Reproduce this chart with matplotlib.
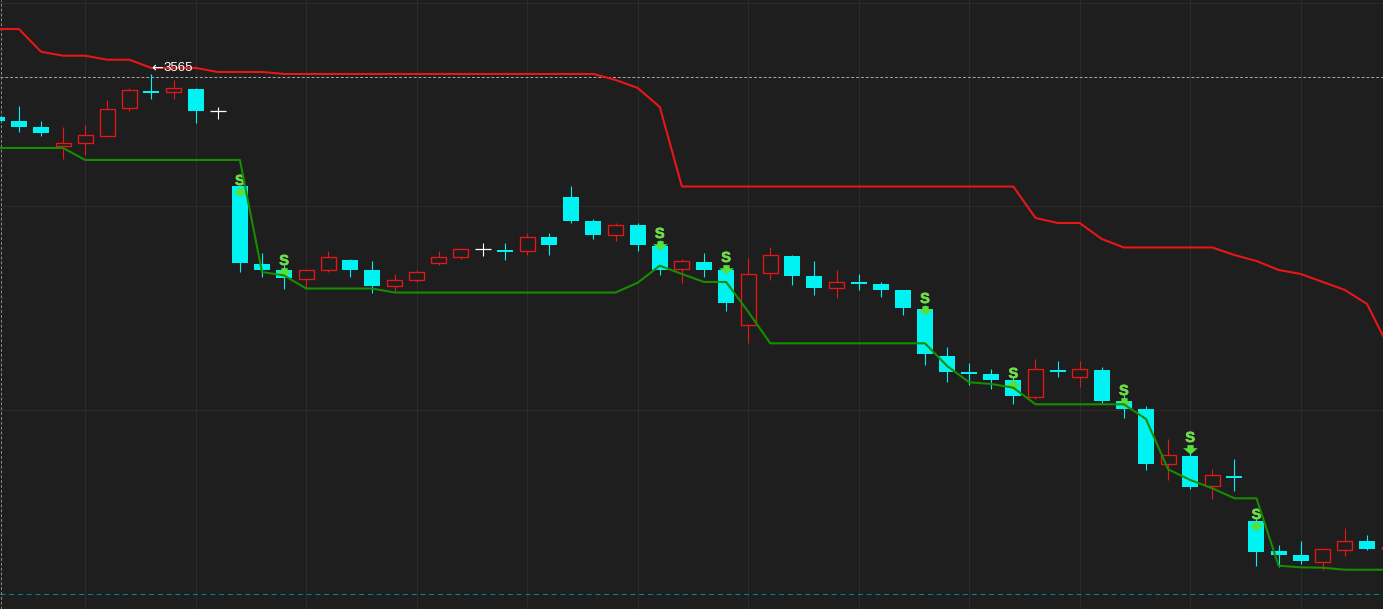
import numpy as np
import matplotlib
matplotlib.use('Agg')
import matplotlib.pyplot as plt
import matplotlib.patheffects as pe
from matplotlib.path import Path

# candles, one entry per bar
opens = [3560.00, 3559.50, 3558.75, 3556.38, 3556.69, 3557.63, 3561.13, 3563.25, 3563.13, 3563.50,
         3560.75, 3551.38, 3541.63, 3540.88, 3539.75, 3540.88, 3542.13, 3540.88, 3538.88, 3539.63,
         3541.75, 3542.50, 3543.50, 3543.38, 3543.25, 3545.00, 3550.00, 3547.00, 3545.25, 3546.50,
         3543.88, 3541.00, 3541.88, 3540.88, 3534.00, 3540.50, 3542.63, 3540.13, 3538.63, 3539.38,
         3539.13, 3538.38, 3536.00, 3530.13, 3528.13, 3527.88, 3527.13, 3525.00, 3528.38, 3527.50,
         3528.38, 3524.50, 3523.50, 3516.63, 3517.63, 3513.88, 3515.13, 3509.50, 3505.75, 3505.25,
         3504.38, 3505.88, 3507.00, 3506.00]
closes = [3559.50, 3558.75, 3558.00, 3556.69, 3557.75, 3561.00, 3563.38, 3563.00, 3563.63, 3560.75,
          3560.75, 3541.75, 3540.88, 3539.88, 3540.88, 3542.50, 3540.88, 3538.88, 3539.63, 3540.63,
          3542.50, 3543.50, 3543.50, 3543.13, 3545.00, 3544.00, 3547.00, 3545.25, 3546.50, 3544.00,
          3540.88, 3542.00, 3540.88, 3536.75, 3540.38, 3542.75, 3540.13, 3538.63, 3539.38, 3539.13,
          3538.38, 3536.13, 3530.38, 3528.13, 3527.88, 3527.13, 3525.13, 3528.50, 3528.13, 3528.50,
          3524.50, 3523.50, 3516.63, 3517.75, 3513.75, 3515.25, 3514.88, 3505.63, 3505.25, 3504.50,
          3506.00, 3507.00, 3506.00, 3506.25]
highs = [3560.25, 3561.38, 3559.50, 3558.75, 3559.00, 3562.13, 3563.63, 3565.38, 3564.63, 3563.63,
         3561.25, 3551.38, 3543.00, 3541.50, 3540.88, 3543.25, 3542.25, 3542.00, 3540.38, 3540.88,
         3543.25, 3543.63, 3544.25, 3544.25, 3545.50, 3545.50, 3551.38, 3547.25, 3546.75, 3546.75,
         3544.63, 3542.25, 3543.00, 3541.50, 3542.38, 3543.75, 3542.75, 3542.00, 3540.88, 3540.38,
         3539.38, 3538.38, 3536.50, 3531.25, 3529.25, 3528.50, 3527.50, 3529.75, 3529.50, 3529.50,
         3528.75, 3525.25, 3523.88, 3519.75, 3518.38, 3516.00, 3517.25, 3509.88, 3506.50, 3507.00,
         3506.00, 3508.63, 3507.75, 3506.25]
lows = [3559.13, 3558.13, 3557.63, 3554.75, 3555.25, 3557.63, 3560.75, 3562.25, 3562.25, 3559.25,
        3559.75, 3540.63, 3540.00, 3538.50, 3538.63, 3540.63, 3540.00, 3538.00, 3538.13, 3539.38,
        3541.50, 3542.25, 3542.63, 3542.13, 3542.75, 3542.75, 3546.75, 3544.75, 3544.50, 3543.25,
        3540.25, 3539.25, 3540.00, 3535.75, 3531.75, 3539.63, 3539.00, 3537.75, 3537.38, 3538.38,
        3537.50, 3535.25, 3529.00, 3526.88, 3526.50, 3526.00, 3524.13, 3524.75, 3527.50, 3526.25,
        3524.13, 3522.38, 3515.88, 3514.63, 3513.50, 3512.25, 3513.25, 3503.88, 3503.75, 3504.13,
        3503.38, 3505.13, 3505.88, 3506.00]

# upper and lower stop lines
upper_line = [3571.00, 3571.00, 3568.16, 3567.66, 3567.66, 3567.16, 3567.16, 3566.13, 3566.13, 3566.13,
              3565.63, 3565.63, 3565.63, 3565.38, 3565.38, 3565.38, 3565.38, 3565.38, 3565.38, 3565.38,
              3565.38, 3565.38, 3565.38, 3565.38, 3565.38, 3565.38, 3565.38, 3565.38, 3564.63, 3563.63,
              3561.25, 3551.31, 3551.31, 3551.31, 3551.31, 3551.31, 3551.31, 3551.31, 3551.31, 3551.31,
              3551.31, 3551.31, 3551.31, 3551.31, 3551.31, 3551.31, 3551.31, 3547.38, 3546.75, 3546.75,
              3544.75, 3543.69, 3543.69, 3543.69, 3543.69, 3543.69, 3542.75, 3542.00, 3540.88, 3540.38,
              3539.38, 3538.38, 3536.63, 3531.13]
lower_line = [3556.13, 3556.13, 3556.13, 3556.13, 3554.63, 3554.63, 3554.63, 3554.63, 3554.63, 3554.63,
              3554.63, 3554.63, 3540.63, 3540.19, 3538.56, 3538.56, 3538.56, 3538.56, 3538.06, 3538.06,
              3538.06, 3538.06, 3538.06, 3538.06, 3538.06, 3538.06, 3538.06, 3538.06, 3538.06, 3539.29,
              3541.41, 3540.38, 3539.38, 3539.38, 3535.66, 3531.71, 3531.71, 3531.71, 3531.71, 3531.71,
              3531.71, 3531.71, 3531.71, 3528.88, 3526.84, 3526.63, 3526.16, 3524.09, 3524.09, 3524.09,
              3524.09, 3524.09, 3522.25, 3515.96, 3514.63, 3513.59, 3512.34, 3512.34, 3503.91, 3503.71,
              3503.66, 3503.41, 3503.41, 3503.41]

# sell signals: bar number and price of the arrow tip
signal_bars = [11, 13, 30, 33, 42, 46, 51, 54, 57]
signal_tips = [3550.00, 3540.00, 3543.38, 3540.38, 3535.25, 3525.88, 3523.75, 3517.88, 3508.25]

grid_prices = [3574.21, 3548.84, 3523.38]
grid_bars = [4, 9, 14, 19, 24, 29, 34, 39, 44, 49, 54, 59]
last_price = 3565
lower_price = 3500.38
last_label = '3565'

BG = '#1e1e1e'
GRID = '#2b2b2b'
CYAN = '#00f3f3'
RED = '#e81616'
GREEN = '#178c00'
SIG = '#55e03a'

fig = plt.figure(figsize=(13.83, 6.09), dpi=100, facecolor=BG)
ax = fig.add_axes([0, 0, 1, 1], facecolor=BG)
ax.set_xlim(0.145, 62.725)
ax.set_ylim(3498.5, 3574.625)
ax.axis('off')

for b in grid_bars:
    ax.axvline(b, color=GRID, lw=0.8, zorder=1)
for p in grid_prices:
    ax.axhline(p, color=GRID, lw=0.8, zorder=1)

ax.axhline(last_price, color='#a8a8a8', lw=0.7, dashes=(3, 2), zorder=2)
ax.axhline(lower_price, color='#008c8c', lw=0.7, dashes=(5, 4), zorder=2)
ax.axvline(0.208, color='#8c8c8c', lw=0.7, dashes=(3, 2), zorder=2)

bars = np.arange(len(opens))
o = np.array(opens)
c = np.array(closes)

# cyan filled = close below open, red hollow = close above, white = flat
colors = np.where(c < o, CYAN, np.where(c > o, RED, 'white'))
ax.vlines(bars, lows, highs, colors=colors, lw=0.8, zorder=3)

down = c < o
up = c > o
flat = c == o
ax.bar(bars[down], (o - c)[down], bottom=c[down], width=0.724, color=CYAN, lw=0, zorder=4)
ax.bar(bars[up], (c - o)[up], bottom=o[up], width=0.68, facecolor=BG, edgecolor=RED, lw=0.95, zorder=4)
ax.hlines(c[flat], bars[flat] - 0.36, bars[flat] + 0.36, colors='white', lw=0.9, zorder=4)

ax.plot(bars, upper_line, color=RED, lw=1.5, zorder=5)

# arrow glyph comes from DejaVu, Liberation's one is too short
ax.text(6.98, last_price + 1.1, '\u2190', color='white', fontsize=10, va='center', ha='left',
        family='DejaVu Sans', zorder=5.5)
ax.text(7.52, last_price + 1.1, last_label, color='white', fontsize=9.5, va='center', ha='left',
        family='Liberation Sans', zorder=5.5)

# arrow with a short stem, tip sits on the signal price
arrow = Path([(0, 0), (-7, 6), (-3, 6), (-3, 9), (3, 9), (3, 6), (7, 6), (0, 0)], closed=True)
ax.plot(signal_bars, signal_tips, ls='none', marker=arrow, ms=13.5, color=SIG, mew=0, zorder=6)
for b, tip in zip(signal_bars, signal_tips):
    t = ax.annotate('S', (b, tip), xytext=(0, 11.5), textcoords='offset points', ha='center', va='center',
                    color='#6fdc4c', fontsize=10.5, fontweight='bold', family='Liberation Sans', zorder=6)
    t.set_path_effects([pe.withStroke(linewidth=0.5, foreground='#6fdc4c')])

ax.plot(bars, lower_line, color=GREEN, lw=1.5, zorder=7)

fig.savefig('out.png', dpi=100, facecolor=BG)
